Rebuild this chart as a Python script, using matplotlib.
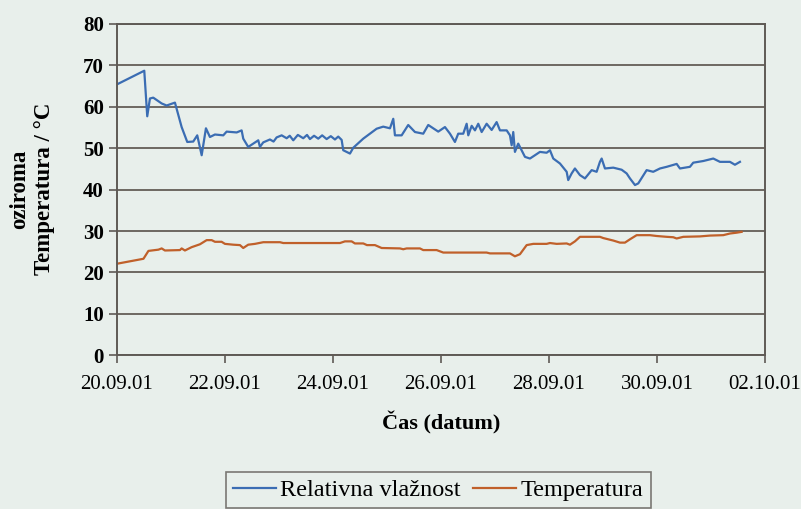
import matplotlib.pyplot as plt
import matplotlib.dates as mdates
import pandas as pd

# days since 20.09.2001 00:00 and readings
rh_days = [0.0, 0.506, 0.561, 0.611, 0.672, 0.828, 0.920, 1.074, 1.198, 1.302,
           1.413, 1.487, 1.569, 1.648, 1.722, 1.815, 1.969, 2.031, 2.217, 2.309,
           2.339, 2.431, 2.617, 2.648, 2.709, 2.833, 2.900, 2.957, 3.050, 3.143,
           3.200, 3.265, 3.350, 3.450, 3.520, 3.574, 3.650, 3.728, 3.800, 3.883,
           3.960, 4.037, 4.098, 4.161, 4.191, 4.315, 4.376, 4.561,
           4.809, 4.931, 5.056, 5.117, 5.148, 5.272, 5.394, 5.519, 5.672, 5.765,
           5.857, 5.950, 6.074, 6.167, 6.259, 6.320, 6.413, 6.476, 6.506, 6.569,
           6.630, 6.691, 6.754, 6.846, 6.939, 7.031, 7.093, 7.217, 7.278, 7.309,
           7.339, 7.370, 7.431, 7.556, 7.648, 7.741, 7.833, 7.957, 8.019, 8.080,
           8.204, 8.328, 8.357, 8.420, 8.481, 8.574, 8.667, 8.791, 8.883, 8.944,
           8.976, 9.037, 9.191, 9.346, 9.439, 9.500, 9.593, 9.654, 9.809, 9.931,
           10.056, 10.180, 10.365, 10.426, 10.611, 10.672, 10.857, 11.043, 11.167,
           11.352, 11.444, 11.537]
rh_vals = [65.4, 68.7, 57.7, 62.0, 62.2, 60.8, 60.3, 61.0, 55.1, 51.5,
           51.6, 53.1, 48.3, 54.8, 52.7, 53.3, 53.1, 54.0, 53.8, 54.3,
           52.3, 50.3, 51.9, 50.3, 51.4, 52.1, 51.6, 52.6, 53.1, 52.4,
           53.0, 51.9, 53.2, 52.4, 53.2, 52.2, 53.0, 52.3, 53.1, 52.2,
           52.9, 52.1, 52.8, 52.0, 49.5, 48.7, 50.1, 52.3,
           54.7, 55.2, 54.8, 57.1, 53.1, 53.1, 55.6, 53.9, 53.5, 55.6,
           54.8, 54.0, 55.1, 53.5, 51.5, 53.5, 53.5, 55.9, 53.1, 55.4,
           54.3, 55.9, 53.9, 55.9, 54.4, 56.3, 54.3, 54.3, 53.1, 50.7,
           53.9, 49.1, 51.1, 47.9, 47.5, 48.3, 49.1, 48.9, 49.5, 47.5,
           46.3, 44.3, 42.3, 43.9, 45.1, 43.5, 42.7, 44.7, 44.3, 46.7,
           47.5, 45.1, 45.3, 44.8, 43.9, 42.7, 41.1, 41.5, 44.7, 44.3,
           45.1, 45.5, 46.2, 45.1, 45.5, 46.5, 46.9, 47.5, 46.7,
           46.7, 46.0, 46.7]

t_days = [0.0, 0.491, 0.583, 0.768, 0.828, 0.889, 1.167, 1.198, 1.259, 1.383,
          1.537, 1.661, 1.754, 1.815, 1.938, 2.000, 2.154, 2.278, 2.339, 2.431,
          2.556, 2.710, 3.019, 3.080, 4.130, 4.222, 4.346, 4.407, 4.562, 4.630,
          4.778, 4.902, 5.241, 5.302, 5.365, 5.611, 5.672, 5.920, 5.981, 6.043,
          6.846, 6.907, 7.278, 7.370, 7.463, 7.587, 7.710, 7.957, 8.019, 8.143,
          8.328, 8.389, 8.481, 8.574, 8.944, 9.006, 9.191, 9.315, 9.407, 9.500,
          9.624, 9.870, 9.994, 10.180, 10.302, 10.365, 10.488, 10.796, 10.981,
          11.228, 11.352, 11.476, 11.568]
t_vals = [22.1, 23.3, 25.2, 25.5, 25.8, 25.3, 25.4, 25.8, 25.3, 26.1,
          26.8, 27.8, 27.8, 27.4, 27.4, 26.9, 26.7, 26.6, 25.9, 26.7,
          26.9, 27.3, 27.3, 27.1, 27.1, 27.5, 27.5, 27.0, 27.0, 26.6,
          26.6, 25.9, 25.8, 25.6, 25.8, 25.8, 25.4, 25.4, 25.1, 24.8,
          24.8, 24.6, 24.6, 23.9, 24.4, 26.6, 26.9, 26.9, 27.1, 26.9,
          27.0, 26.7, 27.5, 28.6, 28.6, 28.3, 27.7, 27.2, 27.2, 28.0,
          29.0, 29.0, 28.8, 28.6, 28.5, 28.2, 28.6, 28.7, 28.9,
          29.0, 29.4, 29.6, 29.8]

start = pd.Timestamp("2001-09-20")
rh_time = start + pd.to_timedelta(rh_days, unit="D")
t_time = start + pd.to_timedelta(t_days, unit="D")

bg = "#e8efeb"
plt.rcParams["font.family"] = ["Liberation Serif", "DejaVu Serif"]

fig = plt.figure(figsize=(8.01, 5.09), dpi=100, facecolor=bg)
ax = fig.add_axes([0.146, 0.302, 0.809, 0.651], facecolor=bg)

ax.plot(rh_time, rh_vals, color="#3b6db3", lw=1.6, label="Relativna vlažnost")
ax.plot(t_time, t_vals, color="#c0602a", lw=1.6, label="Temperatura")

ax.set_ylim(0, 80)
ax.set_yticks(range(0, 81, 10))
ax.set_xlim(start, pd.Timestamp("2001-10-02"))
ax.xaxis.set_major_locator(mdates.DayLocator(bymonthday=[2, 20, 22, 24, 26, 28, 30]))
ax.xaxis.set_major_formatter(mdates.DateFormatter("%d.%m.%y"))
ax.yaxis.grid(True, color="#6d6862", lw=1.4)
ax.set_axisbelow(True)
for s in ax.spines.values():
    s.set_color("#5f5a55")
    s.set_linewidth(1.4)
ax.tick_params(axis="both", labelsize=15, color="#5f5a55", length=6, width=1.2)
ax.tick_params(axis="x", pad=8)
for lab in ax.get_yticklabels():
    lab.set_fontweight("bold")

ax.set_xlabel("Čas (datum)", fontsize=16, fontweight="bold", labelpad=13)
fig.text(0.040, 0.629, "oziroma\nTemperatura / °C", rotation=90, fontsize=16.5,
         fontweight="bold", ha="center", va="center", multialignment="center",
         linespacing=1.3)

leg = fig.legend(loc="center", bbox_to_anchor=(0.547, 0.037), ncol=2, fontsize=17.5,
                 frameon=True, fancybox=False, handlelength=1.75, handletextpad=0.2,
                 columnspacing=0.5, borderpad=0.3)
leg.get_frame().set_edgecolor("#5f5a55")
leg.get_frame().set_facecolor(bg)
leg.get_frame().set_linewidth(1.2)

fig.savefig("out.png", dpi=100, facecolor=bg)
